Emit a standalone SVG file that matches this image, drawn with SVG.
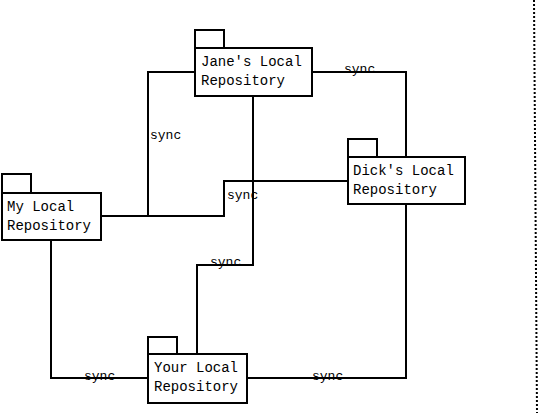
<svg xmlns="http://www.w3.org/2000/svg" width="538" height="413" viewBox="0 0 538 413">
<style>
.box{fill:#fff;stroke:#000;stroke-width:2}
.lbl{font-family:"Liberation Mono","Courier New",monospace;font-size:14px;fill:#000}
.sync{font-family:"Liberation Mono","Courier New",monospace;font-size:13px;fill:#000}
.conn{fill:none;stroke:#000;stroke-width:2}
</style>
<rect width="538" height="413" fill="#fff"/>
<g id="connectors">
<path class="conn" d="M195,72 H148 V216"/>
<path class="conn" d="M101,216 H224 V181 H348"/>
<path class="conn" d="M312,72 H406 V157"/>
<path class="conn" d="M253,96 V265 H197 V354"/>
<path class="conn" d="M51,240 V378 H148"/>
<path class="conn" d="M247,378 H406 V204"/>
<text class="sync" x="344" y="73">sync</text>
<text class="sync" x="150" y="139">sync</text>
<text class="sync" x="227" y="199">sync</text>
<text class="sync" x="210" y="266">sync</text>
<text class="sync" x="84" y="380">sync</text>
<text class="sync" x="312" y="380">sync</text>
</g>
<g id="jane">
<rect class="box" x="195" y="30" width="29" height="18"/>
<rect class="box" x="195" y="48" width="117" height="48"/>
<text class="lbl" x="201" y="66">Jane's Local</text>
<text class="lbl" x="201" y="85">Repository</text>
</g>
<g id="my">
<rect class="box" x="2" y="174" width="29" height="19"/>
<rect class="box" x="2" y="193" width="99" height="47"/>
<text class="lbl" x="7" y="211">My Local</text>
<text class="lbl" x="7" y="230">Repository</text>
</g>
<g id="dick">
<rect class="box" x="348" y="139" width="29" height="18"/>
<rect class="box" x="348" y="157" width="117" height="47"/>
<text class="lbl" x="353" y="175">Dick's Local</text>
<text class="lbl" x="353" y="194">Repository</text>
</g>
<g id="your">
<rect class="box" x="148" y="337" width="29" height="17"/>
<rect class="box" x="148" y="354" width="99" height="49"/>
<text class="lbl" x="154" y="372">Your Local</text>
<text class="lbl" x="154" y="391">Repository</text>
</g>
<line x1="534" y1="0" x2="537" y2="413" stroke="#000" stroke-width="2" stroke-dasharray="2,2"/>
</svg>
